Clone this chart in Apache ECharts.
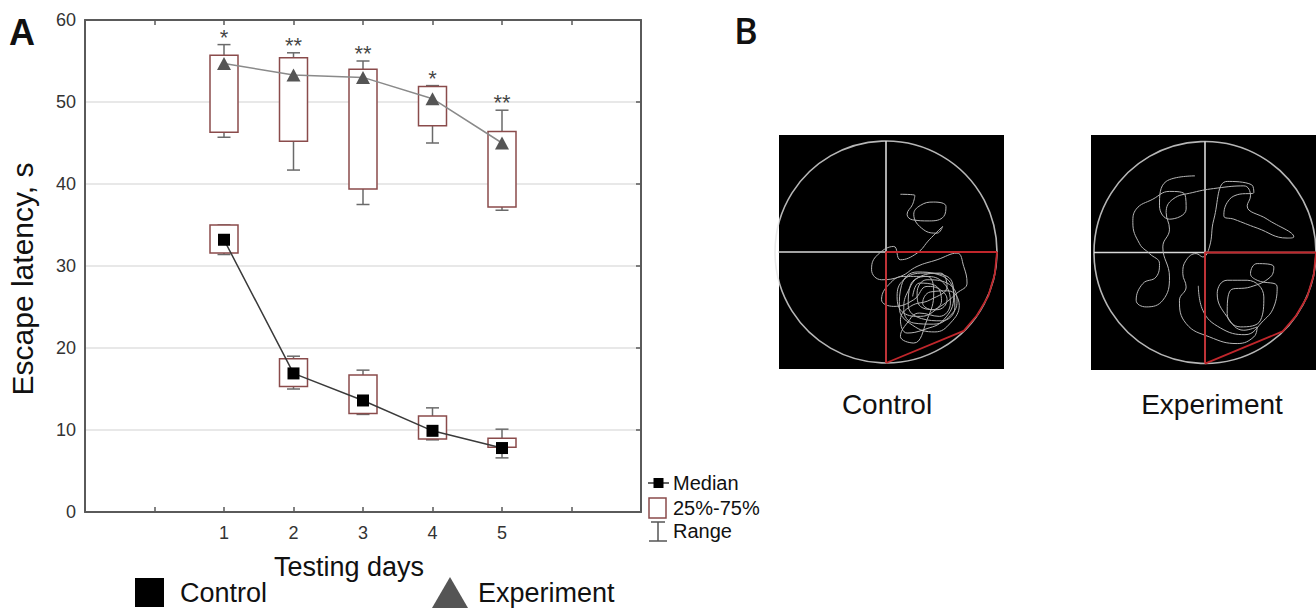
<!DOCTYPE html>
<html><head><meta charset="utf-8">
<script src="https://cdn.jsdelivr.net/npm/echarts@6/dist/echarts.min.js"></script>
<style>html,body{margin:0;padding:0;background:#fff}#c{width:1316px;height:611px}</style>
</head><body><div id="c"></div>
<script>
// ---- Panel A data ----
const days = [1, 2, 3, 4, 5];
const xTickLabels = ['1', '2', '3', '4', '5'];
const controlMin    = [31.4, 15.0, 11.9, 8.8, 6.6];
const controlQ1     = [31.6, 15.3, 12.0, 8.9, 7.9];
const controlMedian = [33.2, 16.9, 13.6, 9.9, 7.8];
const controlQ3     = [35.0, 18.7, 16.7, 11.7, 9.0];
const controlMax    = [35.0, 19.0, 17.3, 12.7, 10.1];
const expMin    = [45.7, 41.7, 37.5, 45.0, 36.8];
const expQ1     = [46.3, 45.2, 39.4, 47.1, 37.2];
const expMedian = [54.7, 53.3, 53.0, 50.4, 45.0];
const expQ3     = [55.7, 55.4, 54.0, 51.9, 46.4];
const expMax    = [57.0, 56.0, 55.0, 52.0, 49.0];
const significance = ['*', '**', '**', '*', '**'];

// ---- Panel B data (pool radius = 100) ----
const poolCrossH = [[-100, 0], [100, 0]];
const poolCrossV = [[0, 100], [0, -100]];
const platformOutline = [[100, 0], [0, 0], [0, -100]];
const platformArc = [[100, 0], [98, -20], [92, -40], [82, -57], [70, -71], [0, -100]];
const controlPath = [[13,52],[26,51],[24,43],[19,34],[24,29],[39,28],[52,32],[54,41],[43,45],[31,42],[25,34],[34,20],[46,17],[51,23],[39,11],[28,-1],[13,-7],[7,5],[-9,-4],[-13,-16],[-4,-25],[13,-22],[28,-13],[46,-7],[64,-1],[70,-13],[73,-28],[64,-37],[49,-49],[31,-58],[16,-55],[10,-40],[16,-25],[34,-19],[55,-22],[61,-40],[52,-61],[34,-70],[19,-73],[13,-61],[22,-49],[40,-43],[55,-31],[49,-19],[31,-22],[19,-37],[16,-52],[25,-64],[43,-65],[60,-55],[64,-43],[55,-28],[37,-25],[28,-37],[31,-49],[46,-52],[55,-43],[49,-34],[37,-31],[25,-43],[7,-49],[-4,-43],[1,-31],[16,-22],[37,-22],[43,-37],[37,-61],[25,-82],[13,-76],[19,-64],[30,-55],[48,-58],[58,-46],[52,-28],[36,-22],[22,-30],[20,-48],[32,-60],[50,-62],[62,-50],[60,-32],[46,-20],[28,-18],[14,-30],[12,-50],[24,-66],[44,-72],[58,-64],[66,-48],[56,-35],[40,-36],[33,-46],[42,-52],[50,-44],[44,-30],[30,-28],[24,-40]];
const experimentPath = [[-9,69],[-35,64],[-41,42],[-32,30],[-17,39],[-18,52],[-32,55],[-47,48],[-62,39],[-65,27],[-59,8],[-50,-1],[-41,-10],[-44,-22],[-56,-28],[-62,-43],[-53,-49],[-38,-43],[-32,-22],[-38,5],[-32,21],[-35,36],[-29,48],[-11,54],[11,58],[35,60],[41,51],[38,42],[56,30],[80,14],[74,13],[47,22],[26,30],[17,33],[20,45],[29,52],[44,54],[42,61],[20,64],[8,30],[4,5],[-2,-4],[-8,-1],[-17,-7],[-20,-19],[-17,-31],[-23,-43],[-17,-64],[4,-76],[29,-82],[44,-76],[47,-67],[35,-70],[20,-58],[11,-37],[20,-25],[38,-25],[53,-40],[50,-61],[32,-67],[20,-55],[23,-34],[41,-31],[59,-22],[62,-13],[47,-10],[41,-19],[47,-25],[65,-31],[62,-49],[53,-61],[36,-74],[14,-68],[-2,-52],[-6,-30]];

const FONT = "'Liberation Sans', Arial, sans-serif";
const BOX_COLOR = '#8a4b4b';
const WHISKER_COLOR = '#6a6a6a';
const FRAME = { show: true, onZero: false, lineStyle: { color: '#5a5a5a', width: 2 } };
const TICK = { show: true, inside: true, length: 5, lineStyle: { color: '#5a5a5a', width: 1.5 } };

function boxData(mn, q1, q3, mx) {
  return days.map((d, i) => [d, mn[i], q1[i], q3[i], mx[i]]);
}
function renderBox(params, api) {
  const x = api.value(0);
  const pLow = api.coord([x, api.value(1)]);
  const pQ1 = api.coord([x, api.value(2)]);
  const pQ3 = api.coord([x, api.value(3)]);
  const pHigh = api.coord([x, api.value(4)]);
  const bw = 28, cw = 13, cx = pLow[0];
  const ws = { stroke: WHISKER_COLOR, lineWidth: 1.5 };
  return {
    type: 'group',
    children: [
      { type: 'line', shape: { x1: cx, y1: pHigh[1], x2: cx, y2: pQ3[1] }, style: ws },
      { type: 'line', shape: { x1: cx, y1: pQ1[1], x2: cx, y2: pLow[1] }, style: ws },
      { type: 'line', shape: { x1: cx - cw / 2, y1: pHigh[1], x2: cx + cw / 2, y2: pHigh[1] }, style: ws },
      { type: 'line', shape: { x1: cx - cw / 2, y1: pLow[1], x2: cx + cw / 2, y2: pLow[1] }, style: ws },
      { type: 'rect', shape: { x: cx - bw / 2, y: pQ3[1], width: bw, height: pQ1[1] - pQ3[1] },
        style: { fill: '#fff', stroke: BOX_COLOR, lineWidth: 1.5 } }
    ]
  };
}
function pair(xs, ys) { return xs.map((x, i) => [x, ys[i]]); }

function poolSeries(idx, path, name) {
  const base = { xAxisIndex: idx, yAxisIndex: idx, silent: true, animation: false };
  return [
    Object.assign({}, base, { type: 'scatter', name: name + 'Pool', data: [[0, 0]], symbolSize: 222,
      itemStyle: { color: 'rgba(0,0,0,0)', borderColor: '#e4e4e4', borderWidth: 1.6 }, z: 3 }),
    Object.assign({}, base, { type: 'line', name: name + 'CrossH', data: poolCrossH, symbol: 'none',
      lineStyle: { color: '#d8d8d8', width: 1.6 }, z: 3 }),
    Object.assign({}, base, { type: 'line', name: name + 'CrossV', data: poolCrossV, symbol: 'none',
      lineStyle: { color: '#d8d8d8', width: 1.6 }, z: 3 }),
    Object.assign({}, base, { type: 'line', name: name + 'Path', data: path, symbol: 'none', smooth: 0.45,
      lineStyle: { color: '#b5b5b5', width: 1 }, z: 4 }),
    Object.assign({}, base, { type: 'line', name: name + 'Platform', data: platformOutline, symbol: 'none',
      lineStyle: { color: '#c0262b', width: 1.8 }, z: 5 }),
    Object.assign({}, base, { type: 'line', name: name + 'PlatformArc', data: platformArc, symbol: 'none',
      lineStyle: { color: '#c0262b', width: 1.8 }, z: 5 })
  ];
}

const chart = echarts.init(document.getElementById('c'), null, { renderer: 'svg' });
chart.setOption({
  animation: false,
  backgroundColor: '#fff',
  textStyle: { fontFamily: FONT },
  grid: [
    { left: 85, top: 20, width: 556, height: 492, show: false },
    { left: 779, top: 135, width: 225, height: 234, show: true, backgroundColor: '#000', borderWidth: 0 },
    { left: 1091, top: 135, width: 225, height: 235, show: true, backgroundColor: '#000', borderWidth: 0 }
  ],
  xAxis: [
    { gridIndex: 0, type: 'value', min: -1, max: 7, interval: 1,
      name: 'Testing days', nameLocation: 'middle', nameGap: 41,
      nameTextStyle: { fontSize: 27, color: '#111', fontFamily: FONT, padding: [0, 28, 0, 0] },
      axisLine: FRAME, axisTick: TICK,
      axisLabel: { fontSize: 18, color: '#333', margin: 12, fontFamily: FONT,
        formatter: v => (v >= 1 && v <= 5) ? xTickLabels[v - 1] : '' },
      splitLine: { show: false } },
    { gridIndex: 0, type: 'value', position: 'top', min: -1, max: 7, interval: 1,
      axisLine: FRAME, axisTick: TICK,
      axisLabel: { show: false }, splitLine: { show: false } },
    { gridIndex: 1, type: 'value', min: -96.4, max: 106.3, show: false },
    { gridIndex: 2, type: 'value', min: -102.7, max: 100, show: false }
  ],
  yAxis: [
    { gridIndex: 0, type: 'value', min: 0, max: 60, interval: 10,
      name: 'Escape latency, s', nameLocation: 'middle', nameGap: 48,
      nameTextStyle: { fontSize: 30, color: '#111', fontFamily: FONT, padding: [0, 26, 0, 0] },
      axisLine: FRAME, axisTick: { show: false },
      axisLabel: { fontSize: 18, color: '#333', margin: 9, fontFamily: FONT },
      splitLine: { show: true, lineStyle: { color: '#e0e0e0', width: 1.5 } } },
    { gridIndex: 0, type: 'value', position: 'right', min: 0, max: 60, interval: 10,
      axisLine: FRAME, axisTick: TICK,
      axisLabel: { show: false }, splitLine: { show: false } },
    { gridIndex: 1, type: 'value', min: -105.4, max: 105.4, show: false },
    { gridIndex: 2, type: 'value', min: -105.8, max: 105.8, show: false }
  ],
  legend: [
    { left: 135, top: 578, padding: 0, itemWidth: 29, itemHeight: 29, itemGap: 0, selectedMode: false,
      data: [{ name: 'Control', icon: 'rect' }], itemStyle: { borderWidth: 0 },
      textStyle: { fontSize: 27, color: '#111', fontFamily: FONT, padding: [9, 0, 0, 11] } },
    { left: 432, top: 577, padding: 0, itemWidth: 36, itemHeight: 31, itemGap: 0, selectedMode: false,
      data: [{ name: 'Experiment', icon: 'triangle' }], itemStyle: { borderWidth: 0 },
      textStyle: { fontSize: 27, color: '#111', fontFamily: FONT, padding: [9, 0, 0, 5] } }
  ],
  graphic: [
    { type: 'text', left: 9, top: 14, style: { text: 'A', font: "bold 36px 'Liberation Sans', Arial, sans-serif", fill: '#111' } },
    { type: 'text', left: 734, top: 12, style: { text: 'B', font: "600 36px 'Open Sans', 'Liberation Sans', sans-serif", fill: '#111' } },
    // box legend
    { type: 'line', shape: { x1: 648, y1: 483, x2: 669, y2: 483 }, style: { stroke: '#333', lineWidth: 1.5 } },
    { type: 'rect', shape: { x: 653.5, y: 478, width: 10, height: 10 }, style: { fill: '#000' } },
    { type: 'text', x: 673, y: 483, style: { text: 'Median', font: "20px 'Liberation Sans', Arial, sans-serif", fill: '#111', verticalAlign: 'middle' } },
    { type: 'rect', shape: { x: 649, y: 498, width: 17, height: 20 }, style: { fill: '#fff', stroke: BOX_COLOR, lineWidth: 1.5 } },
    { type: 'text', x: 673, y: 508, style: { text: '25%-75%', font: "20px 'Liberation Sans', Arial, sans-serif", fill: '#111', verticalAlign: 'middle' } },
    { type: 'line', shape: { x1: 658, y1: 522, x2: 658, y2: 541 }, style: { stroke: '#555', lineWidth: 1.5 } },
    { type: 'line', shape: { x1: 651, y1: 522, x2: 665, y2: 522 }, style: { stroke: '#555', lineWidth: 1.5 } },
    { type: 'line', shape: { x1: 649, y1: 541, x2: 667, y2: 541 }, style: { stroke: '#555', lineWidth: 1.5 } },
    { type: 'text', x: 673, y: 531, style: { text: 'Range', font: "20px 'Liberation Sans', Arial, sans-serif", fill: '#111', verticalAlign: 'middle' } },
    // pool captions
    { type: 'text', x: 887, y: 404, style: { text: 'Control', font: "28px 'Liberation Sans', Arial, sans-serif", fill: '#111', align: 'center', verticalAlign: 'middle' } },
    { type: 'text', x: 1212, y: 404, style: { text: 'Experiment', font: "28px 'Liberation Sans', Arial, sans-serif", fill: '#111', align: 'center', verticalAlign: 'middle' } }
  ],
  series: [
    { type: 'custom', name: 'ControlBox', xAxisIndex: 0, yAxisIndex: 0, renderItem: renderBox,
      data: boxData(controlMin, controlQ1, controlQ3, controlMax), z: 2, silent: true },
    { type: 'custom', name: 'ExperimentBox', xAxisIndex: 0, yAxisIndex: 0, renderItem: renderBox,
      data: boxData(expMin, expQ1, expQ3, expMax), z: 2, silent: true },
    { type: 'line', name: 'Control', xAxisIndex: 0, yAxisIndex: 0, data: pair(days, controlMedian),
      symbol: 'rect', symbolSize: 12, itemStyle: { color: '#000' },
      lineStyle: { color: '#3a3a3a', width: 1.5 }, z: 4 },
    { type: 'line', name: 'Experiment', xAxisIndex: 0, yAxisIndex: 0, data: pair(days, expMedian),
      symbol: 'triangle', symbolSize: [14, 13], itemStyle: { color: '#555' },
      lineStyle: { color: '#8a8a8a', width: 1.5 }, z: 4 },
    { type: 'scatter', name: 'Significance', xAxisIndex: 0, yAxisIndex: 0, data: pair(days, expMax),
      symbolSize: 1, itemStyle: { color: 'rgba(0,0,0,0)' }, silent: true, z: 5,
      label: { show: true, position: 'top', distance: -4, fontSize: 22, color: '#111', fontFamily: FONT,
        formatter: p => significance[p.dataIndex] } }
  ].concat(poolSeries(2, controlPath, 'ctrl'), poolSeries(3, experimentPath, 'exp'))
});
</script>
</body></html>
